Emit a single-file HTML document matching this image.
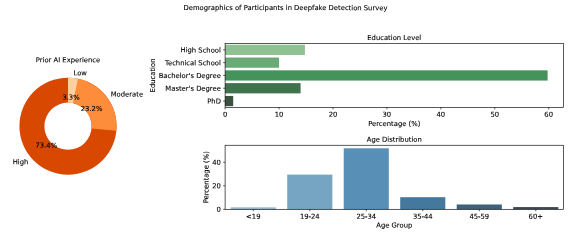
<!DOCTYPE html>
<html><head><meta charset="utf-8"><title>Demographics of Participants in Deepfake Detection Survey</title>
<style>html,body{margin:0;padding:0;background:#fff;}svg{display:block}text{font-family:"DejaVu Sans","Liberation Sans",sans-serif;font-size:6.8px;fill:#000;stroke:#000;stroke-width:0.12px}</style></head><body>
<svg width="571" height="245" viewBox="0 0 571 245">
<rect width="571" height="245" fill="#fff"/>
<text x="285.50" y="10.10" text-anchor="middle" transform="rotate(0.03 285.50 10.10)">Demographics of Participants in Deepfake Detection Survey</text>
<path d="M68.00 77.65A48.55 48.55 0 1 1 68.00 174.75A48.55 48.55 0 1 1 68.00 77.65ZM68.00 102.60A23.60 23.60 0 1 0 68.00 149.80A23.60 23.60 0 1 0 68.00 102.60Z" fill="#d84801" fill-rule="evenodd"/>
<path d="M68.00 77.65A48.55 48.55 0 0 1 116.33 130.85L91.49 128.46A23.60 23.60 0 0 0 68.00 102.60Z" fill="#fd8c3b"/>
<path d="M68.00 77.65A48.55 48.55 0 0 1 78.00 78.69L72.86 103.11A23.60 23.60 0 0 0 68.00 102.60Z" fill="#fdd0a2"/>
<text x="73.56" y="75.36" text-anchor="start" transform="rotate(0.03 73.56 75.36)">Low</text>
<text x="71.03" y="99.63" text-anchor="middle" transform="rotate(0.03 71.03 99.63)">3.3%</text>
<text x="110.76" y="96.57" text-anchor="start" transform="rotate(0.03 110.76 96.57)">Moderate</text>
<text x="91.60" y="111.01" text-anchor="middle" transform="rotate(0.03 91.60 111.01)">23.2%</text>
<text x="28.27" y="164.24" text-anchor="end" transform="rotate(0.03 28.27 164.24)">High</text>
<text x="46.33" y="147.64" text-anchor="middle" transform="rotate(0.03 46.33 147.64)">73.4%</text>
<text x="68.00" y="62.30" text-anchor="middle" transform="rotate(0.03 68.00 62.30)">Prior AI Experience</text>
<rect x="225.10" y="44.73" width="79.81" height="10.24" fill="#8fc193"/>
<line x1="223.20" y1="49.85" x2="225.10" y2="49.85" stroke="#000" stroke-width="0.65"/>
<text x="220.90" y="52.40" text-anchor="end" transform="rotate(0.03 220.90 52.40)">High School</text>
<rect x="225.10" y="57.53" width="53.93" height="10.24" fill="#69aa77"/>
<line x1="223.20" y1="62.65" x2="225.10" y2="62.65" stroke="#000" stroke-width="0.65"/>
<text x="220.90" y="65.20" text-anchor="end" transform="rotate(0.03 220.90 65.20)">Technical School</text>
<rect x="225.10" y="70.33" width="322.49" height="10.24" fill="#44935b"/>
<line x1="223.20" y1="75.45" x2="225.10" y2="75.45" stroke="#000" stroke-width="0.65"/>
<text x="220.90" y="78.00" text-anchor="end" transform="rotate(0.03 220.90 78.00)">Bachelor&#39;s Degree</text>
<rect x="225.10" y="83.13" width="75.50" height="10.24" fill="#3e734d"/>
<line x1="223.20" y1="88.25" x2="225.10" y2="88.25" stroke="#000" stroke-width="0.65"/>
<text x="220.90" y="90.80" text-anchor="end" transform="rotate(0.03 220.90 90.80)">Master&#39;s Degree</text>
<rect x="225.10" y="95.93" width="8.09" height="10.24" fill="#395340"/>
<line x1="223.20" y1="101.05" x2="225.10" y2="101.05" stroke="#000" stroke-width="0.65"/>
<text x="220.90" y="103.60" text-anchor="end" transform="rotate(0.03 220.90 103.60)">PhD</text>
<line x1="225.10" y1="107.45" x2="225.10" y2="109.35" stroke="#000" stroke-width="0.65"/>
<text x="225.10" y="116.85" text-anchor="middle" transform="rotate(0.03 225.10 116.85)">0</text>
<line x1="279.03" y1="107.45" x2="279.03" y2="109.35" stroke="#000" stroke-width="0.65"/>
<text x="279.03" y="116.85" text-anchor="middle" transform="rotate(0.03 279.03 116.85)">10</text>
<line x1="332.96" y1="107.45" x2="332.96" y2="109.35" stroke="#000" stroke-width="0.65"/>
<text x="332.96" y="116.85" text-anchor="middle" transform="rotate(0.03 332.96 116.85)">20</text>
<line x1="386.89" y1="107.45" x2="386.89" y2="109.35" stroke="#000" stroke-width="0.65"/>
<text x="386.89" y="116.85" text-anchor="middle" transform="rotate(0.03 386.89 116.85)">30</text>
<line x1="440.82" y1="107.45" x2="440.82" y2="109.35" stroke="#000" stroke-width="0.65"/>
<text x="440.82" y="116.85" text-anchor="middle" transform="rotate(0.03 440.82 116.85)">40</text>
<line x1="494.74" y1="107.45" x2="494.74" y2="109.35" stroke="#000" stroke-width="0.65"/>
<text x="494.74" y="116.85" text-anchor="middle" transform="rotate(0.03 494.74 116.85)">50</text>
<line x1="548.67" y1="107.45" x2="548.67" y2="109.35" stroke="#000" stroke-width="0.65"/>
<text x="548.67" y="116.85" text-anchor="middle" transform="rotate(0.03 548.67 116.85)">60</text>
<rect x="225.10" y="43.45" width="338.35" height="64.00" fill="none" stroke="#000" stroke-width="0.65"/>
<text x="394.28" y="39.90" text-anchor="middle" transform="rotate(0.03 394.28 39.90)">Education Level</text>
<text x="394.28" y="126.00" text-anchor="middle" transform="rotate(0.03 394.28 126.00)">Percentage (%)</text>
<text x="154.90" y="75.45" text-anchor="middle" transform="rotate(-89.97 154.90 75.45)">Education</text>
<rect x="230.74" y="207.30" width="45.11" height="2.00" fill="#95b9d1"/>
<line x1="253.30" y1="209.30" x2="253.30" y2="211.20" stroke="#000" stroke-width="0.65"/>
<text x="253.30" y="218.70" text-anchor="middle" transform="rotate(0.03 253.30 218.70)">&lt;19</text>
<rect x="287.23" y="174.63" width="45.11" height="34.67" fill="#76a4c3"/>
<line x1="309.79" y1="209.30" x2="309.79" y2="211.20" stroke="#000" stroke-width="0.65"/>
<text x="309.79" y="218.70" text-anchor="middle" transform="rotate(0.03 309.79 218.70)">19-24</text>
<rect x="343.72" y="148.30" width="45.11" height="61.00" fill="#588fb6"/>
<line x1="366.28" y1="209.30" x2="366.28" y2="211.20" stroke="#000" stroke-width="0.65"/>
<text x="366.28" y="218.70" text-anchor="middle" transform="rotate(0.03 366.28 218.70)">25-34</text>
<rect x="400.21" y="197.19" width="45.11" height="12.11" fill="#45789d"/>
<line x1="422.77" y1="209.30" x2="422.77" y2="211.20" stroke="#000" stroke-width="0.65"/>
<text x="422.77" y="218.70" text-anchor="middle" transform="rotate(0.03 422.77 218.70)">35-44</text>
<rect x="456.71" y="204.48" width="45.11" height="4.82" fill="#3f617a"/>
<line x1="479.26" y1="209.30" x2="479.26" y2="211.20" stroke="#000" stroke-width="0.65"/>
<text x="479.26" y="218.70" text-anchor="middle" transform="rotate(0.03 479.26 218.70)">45-59</text>
<rect x="513.20" y="207.07" width="45.11" height="2.23" fill="#394a56"/>
<line x1="535.75" y1="209.30" x2="535.75" y2="211.20" stroke="#000" stroke-width="0.65"/>
<text x="535.75" y="218.70" text-anchor="middle" transform="rotate(0.03 535.75 218.70)">60+</text>
<line x1="223.20" y1="209.30" x2="225.10" y2="209.30" stroke="#000" stroke-width="0.65"/>
<text x="220.90" y="211.85" text-anchor="end" transform="rotate(0.03 220.90 211.85)">0</text>
<line x1="223.20" y1="185.79" x2="225.10" y2="185.79" stroke="#000" stroke-width="0.65"/>
<text x="220.90" y="188.34" text-anchor="end" transform="rotate(0.03 220.90 188.34)">20</text>
<line x1="223.20" y1="162.29" x2="225.10" y2="162.29" stroke="#000" stroke-width="0.65"/>
<text x="220.90" y="164.84" text-anchor="end" transform="rotate(0.03 220.90 164.84)">40</text>
<rect x="225.10" y="145.25" width="338.35" height="64.05" fill="none" stroke="#000" stroke-width="0.65"/>
<text x="394.28" y="141.85" text-anchor="middle" transform="rotate(0.03 394.28 141.85)">Age Distribution</text>
<text x="394.28" y="227.50" text-anchor="middle" transform="rotate(0.03 394.28 227.50)">Age Group</text>
<text x="208.40" y="177.28" text-anchor="middle" transform="rotate(-89.97 208.40 177.28)">Percentage (%)</text>
</svg></body></html>
